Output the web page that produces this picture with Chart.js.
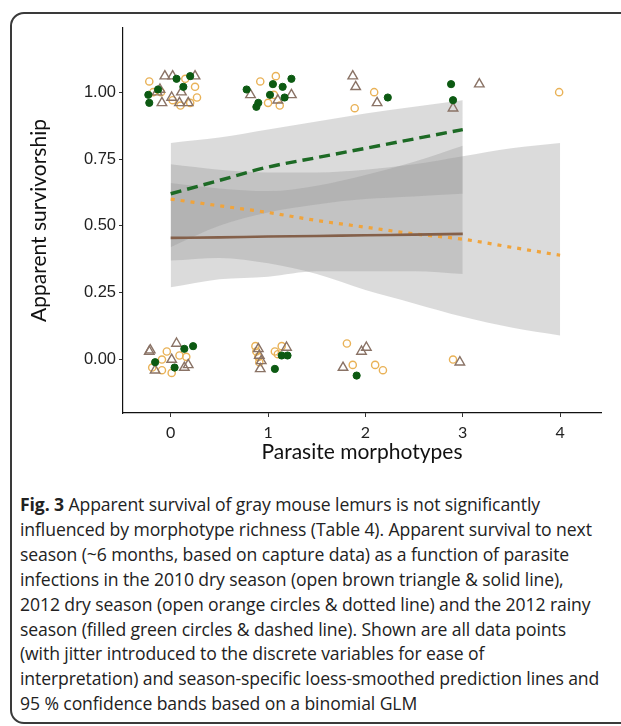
<!DOCTYPE html>
<html lang="en">
<head>
    <meta charset="UTF-8">
    <title>Fig. 3 Apparent survival</title>
    <style>
        body {
            margin: 0;
            background: #fff;
            width: 621px;
            height: 726px;
            overflow: hidden;
            position: relative;
        }
        #frame {
            position: absolute;
            left: 10px;
            top: 12px;
            width: 660px;
            height: 708px;
            border: 2px solid #3a3a3a;
            border-radius: 14px;
        }
        #chartBox {
            position: absolute;
            left: 0;
            top: 0;
            width: 621px;
            height: 480px;
        }
        #caption {
            position: absolute;
            left: 20px;
            top: 492px;
            font-family: "Open Sans", "Noto Sans", sans-serif;
            font-size: 17.6px;
            line-height: 24.9px;
            letter-spacing: -0.1px;
            color: #222;
            white-space: nowrap;
        }
        #caption b { font-weight: 700; }
    </style>
    <script src="https://cdn.jsdelivr.net/npm/chart.js"></script>
</head>
<body>
    <div id="frame"></div>
    <div id="chartBox"><canvas id="survival" width="621" height="480"></canvas></div>
    <div id="caption">
        <div><b>Fig. 3</b> Apparent survival of gray mouse lemurs is not significantly</div>
        <div>influenced by morphotype richness (Table 4). Apparent survival to next</div>
        <div>season (~6 months, based on capture data) as a function of parasite</div>
        <div>infections in the 2010 dry season (open brown triangle &amp; solid line),</div>
        <div>2012 dry season (open orange circles &amp; dotted line) and the 2012 rainy</div>
        <div>season (filled green circles &amp; dashed line). Shown are all data points</div>
        <div>(with jitter introduced to the discrete variables for ease of</div>
        <div>interpretation) and season-specific loess-smoothed prediction lines and</div>
        <div>95 % confidence bands based on a binomial GLM</div>
    </div>

    <script>
        // tick labels
        const xTicks = [0, 1, 2, 3, 4];
        const yTicks = [0, 0.25, 0.5, 0.75, 1];

        // jittered observations, 2010 dry season (open brown triangles)
        const dry2010X = [-0.06, 0.02, -0.11, -0.14, 0.01, 0.11, 0.18, -0.09, 0.09, 0.25, 0.82, 1.24, 1.10, 1.87, 1.90, 2.12, 2.90, 3.17,
                          -0.22, -0.16, 0.06, 0.01, 0.14, 0.18, -0.21, 0.90, 0.92, 0.91, 0.93, 1.19, 1.96, 2.01, 1.77, 2.97];
        const dry2010Y = [1.06, 1.06, 1.01, 1.00, 0.98, 1.00, 0.96, 0.96, 0.96, 1.06, 0.99, 0.99, 0.97, 1.06, 1.02, 0.96, 0.94, 1.03,
                          0.03, -0.04, 0.06, 0.00, -0.03, -0.02, 0.035, 0.04, -0.035, 0.015, -0.005, 0.045, 0.03, 0.045, -0.03, -0.01];

        // 2012 dry season (open orange circles)
        const dry2012X = [-0.22, -0.18, 0.25, 0.27, 0.20, 0.10, 0.02, -0.10, 0.15, 0.92, 1.08, 1.00, 1.12, 1.06, 2.09, 1.89, 3.99,
                          -0.09, -0.09, 0.01, -0.04, 0.09, 0.16, -0.19, 0.87, 0.88, 0.90, 0.91, 1.07, 1.14, 1.10, 1.81, 1.87, 2.10, 2.18, 2.90];
        const dry2012Y = [1.04, 1.00, 1.02, 0.98, 0.96, 0.95, 0.97, 1.00, 1.05, 1.04, 1.06, 0.96, 0.95, 0.99, 1.00, 0.94, 1.00,
                          0.00, -0.04, -0.05, 0.03, 0.015, 0.01, -0.03, 0.05, 0.03, 0.01, -0.01, 0.03, 0.05, 0.02, 0.06, -0.02, -0.02, -0.04, 0.00];

        // 2012 rainy season (filled green circles)
        const rainy2012X = [0.06, 0.20, -0.23, -0.22, -0.13, 0.13, 0.78, 1.05, 1.15, 1.24, 1.02, 1.17, 0.90, 0.88, 2.23, 2.88, 2.90,
                            -0.16, 0.04, 0.14, 0.23, 1.14, 1.20, 1.07, 1.91];
        const rainy2012Y = [1.05, 1.06, 0.99, 0.96, 1.01, 1.02, 1.01, 1.03, 1.02, 1.05, 0.99, 0.98, 0.96, 0.945, 0.98, 1.03, 0.97,
                            -0.01, -0.03, 0.04, 0.05, 0.015, 0.015, -0.035, -0.06];

        // smoothed predictions and 95% bands
        const brownFitX = [0, 0.5, 1, 1.5, 2, 2.5, 3];
        const brownFit = [0.455, 0.457, 0.46, 0.462, 0.465, 0.467, 0.47];
        const brownUpper = [0.66, 0.64, 0.63, 0.65, 0.69, 0.74, 0.80];
        const brownLower = [0.27, 0.30, 0.31, 0.33, 0.33, 0.33, 0.32];

        const orangeFitX = [0, 0.5, 1, 1.5, 2, 2.5, 3, 3.5, 4];
        const orangeFit = [0.60, 0.575, 0.55, 0.52, 0.495, 0.47, 0.45, 0.42, 0.39];
        const orangeUpper = [0.73, 0.71, 0.70, 0.70, 0.71, 0.73, 0.76, 0.79, 0.81];
        const orangeLower = [0.37, 0.38, 0.36, 0.32, 0.26, 0.21, 0.16, 0.12, 0.09];

        const greenFitX = [0, 0.5, 1, 1.5, 2, 2.5, 3];
        const greenFit = [0.62, 0.67, 0.72, 0.755, 0.79, 0.825, 0.86];
        const greenUpper = [0.81, 0.83, 0.86, 0.89, 0.92, 0.945, 0.97];
        const greenLower = [0.42, 0.50, 0.55, 0.58, 0.60, 0.61, 0.62];

        const bandColor = 'rgba(150,150,150,0.34)';

        function pts(xs, ys) {
            return xs.map((x, i) => ({ x: x, y: ys[i] }));
        }

        function bandPair(xs, lower, upper, lowerIndex) {
            return [
                {
                    type: 'line', data: pts(xs, lower), borderWidth: 0, borderColor: 'transparent',
                    pointRadius: 0, fill: false, tension: 0.4, cubicInterpolationMode: 'monotone', order: 3
                },
                {
                    type: 'line', data: pts(xs, upper), borderWidth: 0, borderColor: 'transparent',
                    pointRadius: 0, fill: lowerIndex, backgroundColor: bandColor,
                    tension: 0.4, cubicInterpolationMode: 'monotone', order: 3
                }
            ];
        }

        function fitLine(xs, ys, color, width, dash) {
            return {
                type: 'line', data: pts(xs, ys), borderColor: color, borderWidth: width,
                borderDash: dash, pointRadius: 0, fill: false, tension: 0.4,
                cubicInterpolationMode: 'monotone', order: 2
            };
        }

        const datasets = [
            ...bandPair(brownFitX, brownLower, brownUpper, 0),
            ...bandPair(orangeFitX, orangeLower, orangeUpper, 2),
            ...bandPair(greenFitX, greenLower, greenUpper, 4),
            fitLine(brownFitX, brownFit, '#84604a', 2.6, []),
            fitLine(orangeFitX, orangeFit, '#f0a43c', 3.2, [4, 6]),
            fitLine(greenFitX, greenFit, '#1d6a25', 3.4, [11, 6]),
            {
                type: 'scatter', data: pts(dry2010X, dry2010Y), pointStyle: 'triangle',
                pointRadius: 5.5, borderColor: '#8a7366', backgroundColor: 'transparent',
                pointBorderWidth: 1.4, order: 1
            },
            {
                type: 'scatter', data: pts(dry2012X, dry2012Y), pointStyle: 'circle',
                pointRadius: 3.6, borderColor: '#e9b257', backgroundColor: 'transparent',
                pointBorderWidth: 1.4, order: 1
            },
            {
                type: 'scatter', data: pts(rainy2012X, rainy2012Y), pointStyle: 'circle',
                pointRadius: 3.6, borderColor: '#0c5a12', backgroundColor: '#0c5a12',
                pointBorderWidth: 1, order: 0
            }
        ];

        new Chart(document.getElementById('survival'), {
            type: 'scatter',
            data: { datasets: datasets },
            options: {
                responsive: false,
                animation: false,
                layout: { padding: { top: 28, right: 20, left: 0, bottom: 0 } },
                plugins: { legend: { display: false }, tooltip: { enabled: false } },
                scales: {
                    x: {
                        type: 'linear',
                        min: -0.49,
                        max: 4.42,
                        afterBuildTicks: (s) => { s.ticks = xTicks.map(v => ({ value: v })); },
                        afterFit: (s) => { s.height = 67; },
                        grid: { drawOnChartArea: false, drawTicks: true, tickLength: 4, color: '#333' },
                        border: { display: true, color: '#111', width: 1.2 },
                        ticks: { color: '#222', padding: 6, font: { family: 'Lato', size: 16 } },
                        title: {
                            display: true, text: 'Parasite morphotypes', color: '#111',
                            font: { family: 'Lato', size: 21 }, padding: { top: 0, bottom: 15 }
                        }
                    },
                    y: {
                        type: 'linear',
                        min: -0.2,
                        max: 1.24,
                        afterBuildTicks: (s) => { s.ticks = yTicks.map(v => ({ value: v })); },
                        afterFit: (s) => { s.width = 123; },
                        grid: { drawOnChartArea: false, drawTicks: true, tickLength: 4, color: '#333' },
                        border: { display: true, color: '#111', width: 1.2 },
                        ticks: {
                            color: '#222', padding: 3,
                            font: { family: '"Liberation Sans", Arial', size: 16.5 },
                            callback: (v) => Number(v).toFixed(2)
                        },
                        title: {
                            display: true, text: 'Apparent survivorship', color: '#111',
                            font: { family: 'Lato', size: 21 }, padding: { top: 27, bottom: 0 }
                        }
                    }
                }
            }
        });
    </script>
</body>
</html>
